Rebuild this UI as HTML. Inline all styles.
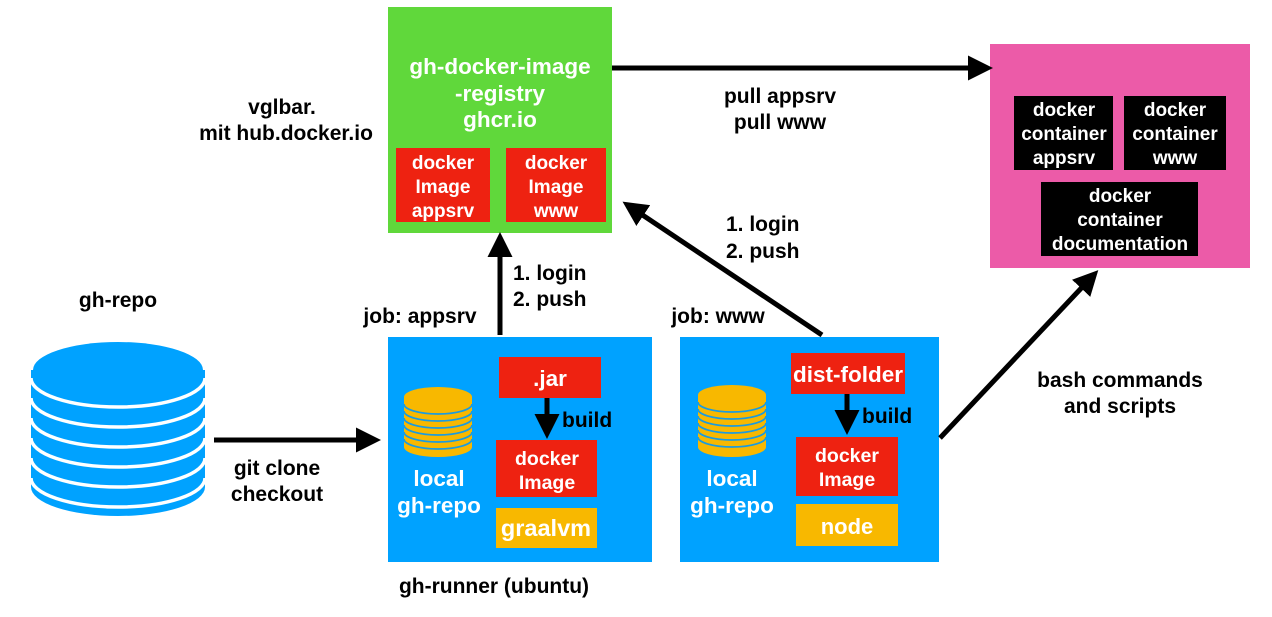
<!DOCTYPE html>
<html><head><meta charset="utf-8"><style>
html,body{margin:0;padding:0;background:#fff;}
svg text{font-family:"Liberation Sans",Arial,sans-serif;font-weight:bold;}
</style></head><body>
<svg width="1272" height="612" viewBox="0 0 1272 612" xmlns="http://www.w3.org/2000/svg" font-size="21">
<defs>
<marker id="ah" markerWidth="5" markerHeight="5" refX="2" refY="2.5" orient="auto" markerUnits="strokeWidth"><path d="M0,0 L5,2.5 L0,5 Z" fill="#000"/></marker>
</defs>
<g>
<rect x="31" y="370" width="174" height="117" fill="#00a2ff"/>
<ellipse cx="118" cy="487" rx="87" ry="29" fill="#00a2ff"/>
<g fill="none" stroke="#fff" stroke-width="3.5">
<path d="M31,378 A87,29 0 0 0 205,378"/>
<path d="M31,398 A87,29 0 0 0 205,398"/>
<path d="M31,418 A87,29 0 0 0 205,418"/>
<path d="M31,438 A87,29 0 0 0 205,438"/>
<path d="M31,458 A87,29 0 0 0 205,458"/>
<path d="M31,478 A87,29 0 0 0 205,478"/>
</g>
<ellipse cx="118" cy="370" rx="85" ry="28" fill="#00a2ff"/>
</g>
<text x="118" y="307" text-anchor="middle">gh-repo</text>

<rect x="388" y="7" width="224" height="226" fill="#60d83b"/>
<text x="500" y="74" text-anchor="middle" fill="#fff" font-size="22.5">gh-docker-image</text>
<text x="500" y="101" text-anchor="middle" fill="#fff" font-size="22.5">-registry</text>
<text x="500" y="127" text-anchor="middle" fill="#fff" font-size="22.5">ghcr.io</text>
<rect x="396" y="148" width="94" height="74" fill="#ee2211"/>
<rect x="506" y="148" width="100" height="74" fill="#ee2211"/>
<g fill="#fff" text-anchor="middle" font-size="19">
<text x="443" y="169">docker</text><text x="443" y="193">Image</text><text x="443" y="217">appsrv</text>
<text x="556" y="169">docker</text><text x="556" y="193">Image</text><text x="556" y="217">www</text>
</g>

<rect x="990" y="44" width="260" height="224" fill="#ec5ba8"/>
<rect x="1014" y="96" width="99" height="74" fill="#000"/>
<rect x="1124" y="96" width="102" height="74" fill="#000"/>
<rect x="1041" y="182" width="157" height="74" fill="#000"/>
<g fill="#fff" text-anchor="middle" font-size="19">
<text x="1064" y="116">docker</text><text x="1064" y="140">container</text><text x="1064" y="164">appsrv</text>
<text x="1175" y="116">docker</text><text x="1175" y="140">container</text><text x="1175" y="164">www</text>
<text x="1120" y="202">docker</text><text x="1120" y="226">container</text><text x="1120" y="250">documentation</text>
</g>

<rect x="388" y="337" width="264" height="225" fill="#00a2ff"/>
<g>
<rect x="404" y="397" width="68" height="50" fill="#f8b800"/>
<ellipse cx="438" cy="447" rx="34" ry="10" fill="#f8b800"/>
<g fill="none" stroke="#1a9be0" stroke-width="1.8">
<path d="M404,404 A34,10 0 0 0 472,404"/><path d="M404,411 A34,10 0 0 0 472,411"/>
<path d="M404,418 A34,10 0 0 0 472,418"/><path d="M404,425 A34,10 0 0 0 472,425"/>
<path d="M404,432 A34,10 0 0 0 472,432"/><path d="M404,439 A34,10 0 0 0 472,439"/>
</g>
<ellipse cx="438" cy="397" rx="34" ry="10" fill="#f8b800"/>
</g>
<text x="439" y="486" text-anchor="middle" fill="#fff" font-size="22.5">local</text>
<text x="439" y="513" text-anchor="middle" fill="#fff" font-size="22.5">gh-repo</text>
<rect x="499" y="357" width="102" height="41" fill="#ee2211"/>
<text x="550" y="386" text-anchor="middle" fill="#fff" font-size="22.5">.jar</text>
<line x1="547" y1="398" x2="547" y2="424" stroke="#000" stroke-width="5" marker-end="url(#ah)"/>
<text x="562" y="427">build</text>
<rect x="496" y="440" width="101" height="57" fill="#ee2211"/>
<text x="547" y="465" text-anchor="middle" fill="#fff" font-size="19.5">docker</text>
<text x="547" y="489" text-anchor="middle" fill="#fff" font-size="19.5">Image</text>
<rect x="496" y="508" width="101" height="40" fill="#f8b800"/>
<text x="546" y="536" text-anchor="middle" fill="#fff" font-size="23.5">graalvm</text>

<rect x="680" y="337" width="259" height="225" fill="#00a2ff"/>
<g>
<rect x="698" y="395" width="68" height="52" fill="#f8b800"/>
<ellipse cx="732" cy="447" rx="34" ry="10" fill="#f8b800"/>
<g fill="none" stroke="#1a9be0" stroke-width="1.8">
<path d="M698,402 A34,10 0 0 0 766,402"/><path d="M698,409 A34,10 0 0 0 766,409"/>
<path d="M698,416 A34,10 0 0 0 766,416"/><path d="M698,423 A34,10 0 0 0 766,423"/>
<path d="M698,430 A34,10 0 0 0 766,430"/><path d="M698,437 A34,10 0 0 0 766,437"/>
</g>
<ellipse cx="732" cy="395" rx="34" ry="10" fill="#f8b800"/>
</g>
<text x="732" y="486" text-anchor="middle" fill="#fff" font-size="22.5">local</text>
<text x="732" y="513" text-anchor="middle" fill="#fff" font-size="22.5">gh-repo</text>
<rect x="791" y="353" width="114" height="41" fill="#ee2211"/>
<text x="848" y="382" text-anchor="middle" fill="#fff" font-size="22.5">dist-folder</text>
<line x1="847" y1="394" x2="847" y2="420" stroke="#000" stroke-width="5" marker-end="url(#ah)"/>
<text x="862" y="423">build</text>
<rect x="796" y="437" width="102" height="59" fill="#ee2211"/>
<text x="847" y="462" text-anchor="middle" fill="#fff" font-size="19.5">docker</text>
<text x="847" y="486" text-anchor="middle" fill="#fff" font-size="19.5">Image</text>
<rect x="796" y="504" width="102" height="42" fill="#f8b800"/>
<text x="847" y="534" text-anchor="middle" fill="#fff" font-size="22">node</text>

<g stroke="#000" stroke-width="5" marker-end="url(#ah)">
<line x1="214" y1="440" x2="366" y2="440"/>
<line x1="500" y1="335" x2="500" y2="247"/>
<line x1="822" y1="335" x2="635" y2="210"/>
<line x1="612" y1="68" x2="978" y2="68"/>
<line x1="940" y1="438" x2="1088" y2="281"/>
</g>

<text x="282" y="114" text-anchor="middle">vglbar.</text>
<text x="286" y="140" text-anchor="middle">mit hub.docker.io</text>
<text x="277" y="475" text-anchor="middle">git clone</text>
<text x="277" y="501" text-anchor="middle">checkout</text>
<text x="420" y="323" text-anchor="middle">job: appsrv</text>
<text x="513" y="280">1. login</text>
<text x="513" y="306">2. push</text>
<text x="718" y="323" text-anchor="middle">job: www</text>
<text x="726" y="231">1. login</text>
<text x="726" y="258">2. push</text>
<text x="780" y="103" text-anchor="middle">pull appsrv</text>
<text x="780" y="129" text-anchor="middle">pull www</text>
<text x="1120" y="387" text-anchor="middle">bash commands</text>
<text x="1120" y="413" text-anchor="middle">and scripts</text>
<text x="494" y="593" text-anchor="middle">gh-runner (ubuntu)</text>
</svg>
</body></html>
